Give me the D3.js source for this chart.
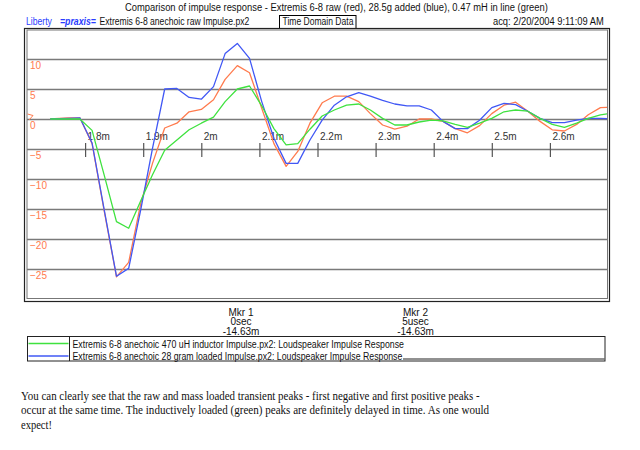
<!DOCTYPE html>
<html>
<head>
<meta charset="utf-8">
<script src="https://cdn.jsdelivr.net/npm/d3@7"></script>
<style>
  body { margin: 0; background: #ffffff; }
  svg { display: block; }
  text { font-family: "Liberation Sans", Arial, sans-serif; }
</style>
</head>
<body>
<script>
// ---- data (time in ms, amplitude) ----
const times = [1.740, 1.771, 1.791, 1.812, 1.833, 1.854, 1.875, 1.896, 1.916, 1.937,
  1.958, 1.979, 2.000, 2.021, 2.041, 2.062, 2.083, 2.104, 2.125, 2.146,
  2.166, 2.187, 2.208, 2.229, 2.250, 2.271, 2.291, 2.312, 2.333, 2.354,
  2.375, 2.396, 2.416, 2.437, 2.458, 2.479, 2.500, 2.521, 2.541, 2.562,
  2.583, 2.604, 2.625, 2.646, 2.666, 2.687, 2.708];
const rawRed = [0, 0.2, 0.2, -4.1, -15.4, -26.3, -23.9, -14.0, -7.4, -1.5,
  -0.7, 1.2, 1.6, 3.2, 6.6, 8.9, 7.7, 1.8, -4.1, -7.9,
  -5.4, -0.7, 2.7, 3.8, 3.8, 2.9, 0.9, -1.0, -1.7, -1.2,
  0.0, 0.0, -0.4, -1.6, -2.3, -1.1, 0.9, 2.3, 2.8, 1.3,
  -0.4, -1.8, -2.0, -0.9, 0.7, 1.9, 2.0];
const massBlue = [0, 0.1, 0.2, -4.0, -15.2, -26.2, -24.9, -15.0, -4.9, 5.0,
  5.1, 3.6, 3.3, 5.4, 10.9, 12.6, 10.1, 2.9, -3.2, -7.4,
  -7.4, -3.5, -0.2, 2.3, 3.7, 4.4, 3.8, 3.1, 2.5, 2.2,
  2.2, 1.5, -0.4, -1.6, -1.6, -0.2, 1.9, 2.6, 2.4, 1.3,
  0.1, -0.6, -0.6, -0.2, 0.1, 0.1, 0.0];
const inductorGreen = [0, 0, 0, -1.9, -9.4, -17.1, -18.2, -13.6, -9.3, -5.2,
  -3.5, -1.8, -0.7, 0.3, 2.9, 5.0, 5.5, 2.2, -1.6, -4.3,
  -4.1, -1.7, 0.5, 1.5, 2.3, 2.5, 1.5, 0.1, -1.0, -1.0,
  -0.5, -0.2, -0.3, -0.9, -1.4, -0.7, 0.1, 1.2, 1.5, 1.3,
  0.1, -0.9, -1.4, -0.7, 0.1, 0.7, 1.0];
const yTickValues = [10, 5, 0, -5, -10, -15, -20, -25];
const xTickValues = [1.8, 1.9, 2.0, 2.1, 2.2, 2.3, 2.4, 2.5, 2.6];
const xTickLabels = ["1.8m", "1.9m", "2m", "2.1m", "2.2m", "2.3m", "2.4m", "2.5m", "2.6m"];
const seriesNames = ["raw", "mass", "inductor"];
const legendLabels = [
  "Extremis 6-8 anechoic 470 uH inductor Impulse.px2:  Loudspeaker Impulse Response",
  "Extremis 6-8 anechoic 28 gram loaded Impulse.px2:  Loudspeaker Impulse Response"
];
const markers = [
  {name: "Mkr 1", time: "0sec", value: "-14.63m"},
  {name: "Mkr 2", time: "5usec", value: "-14.63m"}
];
const paragraph = [
  "You can clearly see that the raw and mass loaded transient peaks - first negative and first positive peaks -",
  "occur at the same time. The inductively loaded (green) peaks are definitely delayed in time. As one would",
  "expect!"
];

// ---- styles ----
const colors = {raw: "#ff7b4e", mass: "#4158f5", inductor: "#3fe23f"};
const W = 640, H = 450;
const plot = {left: 27, right: 607.5, top: 30, bottom: 298.5};
const serif = "'Liberation Serif', 'Times New Roman', serif";

const svg = d3.select("body").append("svg").attr("width", W).attr("height", H);

const x = d3.scaleLinear().domain([1.7, 2.7]).range([27, 608]);
const y = d3.scaleLinear().domain([-30, 15]).range([299, 29]);

// text placed at (tx, ty) and horizontally scaled to a target width
function fitText(parent, str, tx, ty, width, size, fill, style) {
  const t = parent.append("text").attr("x", 0).attr("y", 0)
    .attr("font-size", size).attr("fill", fill || "#111").text(str);
  if (style) style(t);
  const len = t.node().getComputedTextLength();
  const sx = len > 0 ? width / len : 1;
  t.attr("transform", `translate(${tx},${ty}) scale(${sx},1)`);
  return t;
}

// header
fitText(svg, "Comparison of impulse response - Extremis 6-8 raw (red), 28.5g added (blue), 0.47 mH in line (green)",
  125, 11, 423, 11);
fitText(svg, "Liberty", 26, 25, 26, 11, "#2a3cff");
fitText(svg, "=praxis=", 60, 25, 36, 11, "#2a3cff",
  t => t.attr("font-weight", "bold").attr("font-style", "italic"));
fitText(svg, "Extremis 6-8 anechoic raw Impulse.px2", 99.5, 25, 150, 11);
svg.append("rect").attr("x", 279.5).attr("y", 15.5).attr("width", 76.5).attr("height", 13)
  .attr("fill", "none").attr("stroke", "#000").attr("stroke-width", 1);
fitText(svg, "Time Domain Data", 282.5, 25, 71, 11);
fitText(svg, "acq: 2/20/2004 9:11:09 AM", 493, 25, 111, 11);

// frame
svg.append("rect").attr("x", 24.5).attr("y", 28.5).attr("width", 585).attr("height", 273)
  .attr("fill", "#fff").attr("stroke", "#222").attr("stroke-width", 1.2);
svg.append("rect").attr("x", plot.left).attr("y", plot.top).attr("width", plot.right - plot.left)
  .attr("height", plot.bottom - plot.top).attr("fill", "#fff").attr("stroke", "#777").attr("stroke-width", 1);

// y grid + labels
const yAxis = d3.axisRight(y).tickValues(yTickValues).tickSize(plot.right - plot.left)
  .tickFormat(d3.format("d"));
const gy = svg.append("g").attr("transform", `translate(${plot.left},0)`).call(yAxis);
gy.select(".domain").remove();
gy.selectAll(".tick line").attr("stroke", "#7a7a7a").attr("stroke-width", 1.3);
gy.selectAll(".tick text").attr("x", 3).attr("y", 9).attr("dy", 0)
  .attr("fill", "#ff7b4e").attr("font-size", 10).attr("text-anchor", "start");

// zero reference marker
svg.append("path").attr("d", "M27.5,114 L33,115.5 L29,120").attr("fill", "none")
  .attr("stroke", "#ff7b4e").attr("stroke-width", 1);

// x ticks on the -5 line
const xAxis = d3.axisBottom(x).tickValues(xTickValues).tickSize(14)
  .tickFormat((d, i) => xTickLabels[i]);
const gx = svg.append("g").attr("transform", `translate(0,${y(-5) - 6})`).call(xAxis);
gx.select(".domain").remove();
gx.selectAll(".tick line").attr("stroke", "#555").attr("stroke-width", 1.2);
gx.selectAll(".tick text").attr("x", 2).attr("y", -3).attr("dy", 0)
  .attr("fill", "#333").attr("font-size", 10).attr("text-anchor", "start");

// curves
svg.append("clipPath").attr("id", "clip").append("rect")
  .attr("x", plot.left + 0.5).attr("y", plot.top + 0.5)
  .attr("width", plot.right - plot.left - 1).attr("height", plot.bottom - plot.top - 1);
const seriesData = {raw: rawRed, mass: massBlue, inductor: inductorGreen};
const line = d3.line().x(d => x(d[0])).y(d => y(d[1]));
const gc = svg.append("g").attr("clip-path", "url(#clip)");
seriesNames.forEach(name => {
  const pts = times.map((t, i) => [t, seriesData[name][i]]);
  gc.append("path").datum(pts).attr("d", line).attr("fill", "none")
    .attr("stroke", colors[name]).attr("stroke-width", 1.3).attr("stroke-linejoin", "round");
});

// markers
const mkX = [241, 415.5];
markers.forEach((m, i) => {
  [m.name, m.time, m.value].forEach((s, j) => {
    svg.append("text").attr("x", mkX[i]).attr("y", 315.5 + j * 9.6).attr("font-size", 10)
      .attr("fill", "#111").attr("text-anchor", "middle").text(s);
  });
});

// legend
svg.append("rect").attr("x", 27.5).attr("y", 336.5).attr("width", 577.5).attr("height", 24.5)
  .attr("fill", "none").attr("stroke", "#222").attr("stroke-width", 1);
svg.append("line").attr("x1", 69.5).attr("x2", 69.5).attr("y1", 336.5).attr("y2", 361)
  .attr("stroke", "#222").attr("stroke-width", 1);
const legendColors = [colors.inductor, colors.mass];
const legendLen = [332, 330];
legendLabels.forEach((s, i) => {
  const ly = 343.5 + i * 12.5;
  svg.append("line").attr("x1", 28.5).attr("x2", 68.5).attr("y1", ly).attr("y2", ly)
    .attr("stroke", legendColors[i]).attr("stroke-width", 1.5);
  fitText(svg, s, 72.5, 347.5 + i * 12, legendLen[i], 11);
});
svg.append("line").attr("x1", 403).attr("x2", 604.5).attr("y1", 359).attr("y2", 359)
  .attr("stroke", "#222").attr("stroke-width", 1);

// paragraph
const pLen = [459, 468.5, 31];
paragraph.forEach((s, i) => {
  fitText(svg, s, 21, 399.5 + i * 14.5, pLen[i], 12.5, "#111",
    t => t.style("font-family", serif));
});
</script>
</body>
</html>
